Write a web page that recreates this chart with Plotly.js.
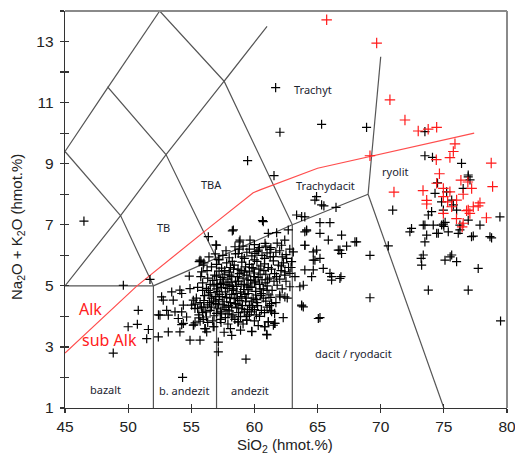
<!DOCTYPE html>
<html><head><meta charset="utf-8">
<script src="https://cdn.plot.ly/plotly-3.0.1.min.js"></script>
<style>html,body{margin:0;padding:0;background:#fff}#chart{width:515px;height:456px}</style>
</head><body><div id="chart"></div>
<script>
// ---- axis ticks ----
const xTicks = [45, 50, 55, 60, 65, 70, 75, 80];
const yTicks = [1, 3, 5, 7, 9, 11, 13];

// ---- TAS field boundaries (SiO2, Na2O+K2O) ----
const tasSegments = [
  [[45,5],[52,5]],
  [[52,1],[52,5]],
  [[57,1],[57,5.9]],
  [[63,1],[63,7]],
  [[52,5],[57,5.9],[63,7],[69,8]],
  [[69,8],[70,12.5]],
  [[69,8],[75,1]],
  [[45,5],[49.4,7.3],[52,5]],
  [[49.4,7.3],[53,9.3],[57,5.9]],
  [[53,9.3],[57.6,11.7],[63,7]],
  [[45,9.4],[49.4,7.3]],
  [[45,9.4],[48.4,11.5],[53,9.3]],
  [[48.4,11.5],[52.5,14]],
  [[52.5,14],[57.6,11.7],[61,13.5]]
];

// ---- alkaline / subalkaline divide ----
const alkLineX = [45, 50.7, 56.1, 59.9, 60.5, 65.0, 77.4];
const alkLineY = [2.8, 5.0, 6.8, 8.05, 8.15, 8.85, 10.0];

// ---- field labels ----
const fieldNames = ["Trachyt","TBA","TB","Trachydacit","ryolit","dacit / ryodacit","bazalt","b. andezit","andezit"];
const fieldX = [64.64, 56.6, 52.8, 65.65, 71.15, 67.83, 48.21, 54.41, 59.65];
const fieldY = [11.42, 8.33, 6.92, 8.3, 8.74, 2.8, 1.6, 1.56, 1.56];
const seriesNames = ["Alk","sub Alk"];
const seriesLabelX = [46.98, 48.56];
const seriesLabelY = [4.23, 3.22];

// ---- samples (black) ----
const blackPoints = [
 // dense core
 [55.6,4.05],[55.9,4.12],[56.2,3.98],[56.5,4.2],[56.8,4.02],[57.1,4.25],[57.4,4.08],[57.7,3.96],[58.0,4.18],[58.3,4.05],
 [58.6,4.28],[58.9,3.99],[59.2,4.15],[59.6,4.05],[60.0,4.22],[60.4,4.0],[60.8,4.12],[61.3,4.2],[56.0,4.3],[57.6,4.3],
 [55.7,4.45],[56.0,4.52],[56.3,4.38],[56.6,4.6],[56.9,4.42],[57.2,4.55],[57.5,4.38],[57.8,4.62],[58.1,4.45],[58.4,4.58],
 [58.7,4.4],[59.0,4.65],[59.3,4.48],[59.6,4.36],[59.9,4.6],[60.2,4.45],[60.5,4.68],[60.9,4.5],[61.3,4.62],[61.7,4.45],
 [62.0,4.7],[56.4,4.7],[58.2,4.72],[59.5,4.75],
 [55.9,4.85],[56.2,4.92],[56.5,4.78],[56.8,5.0],[57.1,4.82],[57.4,4.95],[57.7,4.8],[58.0,5.02],[58.3,4.85],[58.6,4.98],
 [58.9,4.8],[59.2,5.05],[59.5,4.88],[59.8,4.96],[60.1,4.82],[60.4,5.05],[60.7,4.9],[61.0,5.0],[61.4,4.85],[61.8,5.02],
 [62.2,4.9],[57.3,5.08],[60.0,5.1],
 [56.3,5.25],[56.7,5.18],[57.0,5.32],[57.3,5.2],[57.6,5.38],[57.9,5.22],[58.2,5.3],[58.5,5.15],[58.8,5.4],[59.1,5.25],
 [59.4,5.35],[59.7,5.18],[60.0,5.42],[60.3,5.28],[60.6,5.2],[60.9,5.38],[61.2,5.25],[61.6,5.4],[62.0,5.22],[62.4,5.35],
 [58.0,5.45],[59.6,5.48],
 [56.6,5.62],[57.0,5.7],[57.4,5.58],[57.8,5.75],[58.1,5.6],[58.4,5.68],[58.7,5.55],[59.0,5.78],[59.3,5.62],[59.6,5.7],
 [59.9,5.58],[60.2,5.8],[60.5,5.65],[60.8,5.72],[61.1,5.6],[61.5,5.82],[61.9,5.68],[62.3,5.75],[62.7,5.6],
 [57.5,6.0],[58.0,5.92],[58.5,6.05],[59.0,5.95],[59.4,6.1],[59.8,5.98],[60.2,6.12],[60.6,6.0],[61.0,6.08],[61.5,5.96],
 [62.0,6.15],[62.5,6.02],[62.8,6.2],
 [59.1,6.3],[60.0,6.35],[60.9,6.3],[61.8,6.4],[62.4,6.5],
 [56.9,4.65],[57.25,4.72],[57.6,4.48],[57.95,4.35],[58.35,4.9],[58.65,4.6],[59.05,4.35],[59.4,5.0],[59.75,4.5],[60.1,4.7],
 [57.05,5.05],[57.55,5.12],[58.15,5.12],[58.75,5.15],[59.25,4.72],[60.55,4.75],[58.5,4.42],[57.85,4.92],[59.95,5.3],[60.85,5.1],
 [56.6,4.3],[57.3,4.15],[58.45,3.9],[59.45,4.22],[60.25,4.35],[61.15,4.7],[61.55,5.15],[62.1,5.5],[61.25,5.95],[60.35,5.55],
 [58.95,5.5],[57.65,5.5],[56.25,5.5],[55.9,5.1],[55.5,4.25],[55.4,4.6],
 [56.05,4.68],[56.35,4.85],[56.75,4.5],[57.0,4.9],[57.15,4.4],[57.45,4.65],[57.75,4.22],[58.05,4.6],[58.25,4.98],[58.55,4.75],
 [58.85,4.52],[59.15,4.88],[59.35,4.6],[59.65,4.95],[59.85,4.3],[60.15,4.55],[60.45,4.9],[60.7,4.6],[61.0,4.85],[61.2,4.35],
 [56.5,5.05],[56.85,5.35],[57.2,5.48],[57.45,5.28],[57.75,5.05],[58.05,5.35],[58.35,5.55],[58.65,5.3],[58.95,5.05],[59.2,5.45],
 [59.5,5.2],[59.8,5.6],[60.1,5.15],[60.45,5.38],[60.75,5.5],[61.05,5.2],[61.35,5.55],[61.75,5.3],[62.15,5.65],[62.55,5.9],
 [57.2,5.85],[57.75,6.15],[58.25,5.8],[58.8,6.2],[59.2,5.9],[59.6,6.2],[60.0,5.85],[60.4,6.25],[60.8,5.9],[61.3,6.25],
 [61.7,6.1],[62.2,5.95],
 [55.8,4.3],[56.15,4.15],[56.45,4.45],[56.7,3.85],[57.0,4.1],[57.35,3.8],[57.9,4.08],[58.2,4.3],[58.75,4.12],[59.0,4.25],
 [59.35,4.0],[59.75,4.15],[60.15,4.05],[60.55,4.2],[61.0,4.3],[61.6,4.1],[56.3,3.8],[58.1,3.6],[59.1,3.75],[60.0,3.85],
 [55.5,4.95],[55.75,5.3],[56.0,5.75],[56.4,5.95],[56.9,6.05],[55.3,4.4],[55.6,3.95],[62.5,5.15],[62.6,4.6],[62.9,5.6],
 // bottom fringe
 [55.2,3.72],[55.7,3.84],[56.1,3.6],[56.8,3.66],[57.3,3.9],[57.9,3.75],[58.2,3.38],[58.7,3.82],[59.4,3.88],[59.8,3.5],
 [60.3,3.7],[60.8,3.66],[61.1,3.82],[61.6,3.77],[60.97,3.41],[58.9,3.55],[57.6,3.48],
 // left side
 [46.5,7.12],[49.62,5.02],[51.73,5.21],[50.8,4.2],[50.0,3.66],[50.73,3.74],[51.6,3.57],[51.47,3.27],[48.82,2.8],[52.39,3.33],
 [52.52,4.04],[52.65,4.64],[53.05,4.2],[54.31,2.0],[59.33,2.6],[57.14,2.84],[57.14,3.16],[55.69,3.22],[54.9,3.22],[54.1,3.49],
 [53.18,3.49],[53.45,4.8],[54.24,4.75],[54.9,4.91],[55.03,4.37],[54.37,4.37],[53.71,4.15],[54.24,4.15],[54.63,3.98],[54.24,3.73],
 [55.3,3.79],[55.95,3.9],[56.22,3.49],[55.69,5.84],[55.95,5.68],[57.0,6.33],[58.33,6.83],[56.35,6.61],[58.86,6.5],[55.63,5.79],
 [55.82,5.46],[54.84,5.32],[54.1,4.86],[52.78,4.53],[53.57,4.53],[53.18,4.04],[55.16,4.53],[55.29,4.26],[53.97,3.93],[54.37,3.77],
 [57.14,5.87],[52.4,4.05],
 // upper / middle
 [59.46,9.1],[61.68,11.49],[62.02,10.03],[65.32,10.29],[68.88,10.19],[61.55,8.61],
 [63.34,7.32],[63.99,7.26],[60.7,7.1],[58.25,6.8],[59.65,6.5],[61.1,6.72],[61.76,6.74],[62.68,6.83],[63.99,6.77],[63.99,6.33],
 [60.84,6.39],[60.31,6.17],[61.23,6.19],[62.15,6.33],[63.08,6.11],[58.46,6.28],[58.72,6.06],[60.04,6.06],[62.94,5.79],[63.99,5.52],
 [62.41,5.46],[63.21,5.3],[63.6,4.97],[62.81,4.97],[62.41,4.64],[63.74,4.37],[61.36,4.15],[61.1,3.82],[59.38,3.88],[58.72,3.82],
 [61.63,3.77],[58.2,3.98],[61.36,4.42],[60.64,7.14],[56.95,6.34],[55.77,5.81],[58.8,6.44],[64.13,6.8],[65.06,3.93],[62.28,3.96],
 [60.84,3.66],[56.74,3.66],[56.08,3.6],[55.16,3.71],[61.0,3.39],[59.78,3.51],[62.02,4.64],[62.81,5.41],[61.5,3.71],
 // trachydacite / dacite area
 [69.15,6.0],[69.15,4.61],[70.6,6.31],[63.74,4.34],[67.96,6.44],[66.9,6.66],[66.9,6.06],[66.77,6.17],[66.11,5.3],[66.85,5.3],
 [65.45,5.57],[64.66,5.84],[65.19,5.9],[65.85,6.5],[64.92,6.17],[64.92,7.92],[64.79,7.81],[65.32,7.65],[65.5,7.62],[66.46,7.57],
 [65.19,7.07],[65.98,7.07],[64.13,6.83],[65.19,6.72],[68.09,6.44],[67.3,6.3],[66.64,6.17],[64.0,6.33],[64.66,6.11],[64.79,5.84],
 [65.98,5.41],[64.53,5.3],[66.11,5.19],[66.77,5.24],[63.87,5.02],[63.87,4.31],[65.19,3.96],[63.74,7.27],[64.66,5.52],
 // rhyolite cluster
 [73.5,10.05],[73.5,9.26],[74.1,9.21],[76.4,9.01],[74.5,8.37],[76.93,8.57],[79.44,7.26],[70.95,7.48],[76.93,8.63],[77.07,8.47],
 [76.53,8.19],[75.22,8.08],[74.3,8.03],[74.82,7.75],[75.62,7.81],[75.75,7.65],[74.96,7.48],[76.01,7.48],[74.03,7.43],[76.93,7.15],
 [77.86,6.99],[74.82,6.99],[73.5,6.99],[72.44,6.88],[74.16,6.99],[75.35,6.77],[76.27,6.83],[77.19,6.61],[78.65,6.61],[73.64,6.66],
 [74.56,6.72],[72.31,6.77],[73.37,6.99],[74.96,7.02],[75.1,7.08],[75.0,6.95],[74.43,6.72],[76.14,6.72],[77.33,6.63],[78.78,6.57],
 [76.27,6.99],[73.5,6.44],[73.37,6.01],[73.24,5.68],[75.62,6.01],[75.09,5.84],[76.01,5.79],[77.72,5.57],[73.77,4.86],[76.93,4.86],
 [73.77,7.32],[79.49,3.85],[73.2,5.9],[75.5,5.95]
];

// ---- samples (red) ----
const redPoints = [
 [65.72,13.71],[69.68,12.95],[70.73,11.09],[71.92,10.43],[72.97,10.07],[73.76,10.13],[74.43,10.19],[69.15,9.26],[75.88,9.65],[75.75,9.4],
 [75.48,9.2],[74.4,9.13],[78.75,9.02],[74.65,8.67],[74.43,8.36],[76.35,8.46],[76.9,8.4],[78.86,8.25],[73.35,8.12],[71.05,8.07],
 [73.64,7.8],[75.48,8.08],[77.2,8.19],[76.53,8.0],[77.86,7.72],[76.93,7.48],[78.37,7.23],[76.45,6.93],[73.64,7.68],[74.96,7.37],
 [76.8,7.46],[77.06,7.37],[77.72,7.62],[76.53,7.05],[74.96,7.92],[75.62,7.59],[77.33,7.59],[76.01,7.81],[74.96,8.19],[76.0,7.2],
 [75.3,7.75]
];

// ---- build traces ----
const segX = [], segY = [];
tasSegments.forEach(s => { s.forEach(p => { segX.push(p[0]); segY.push(p[1]); }); segX.push(null); segY.push(null); });

const traces = [
  {x: segX, y: segY, mode: 'lines', line: {color: '#555', width: 1.2}, hoverinfo: 'skip', showlegend: false},
  {x: alkLineX, y: alkLineY, mode: 'lines', line: {color: '#ff4d4d', width: 1.2}, hoverinfo: 'skip', showlegend: false},
  {x: blackPoints.map(p => p[0]), y: blackPoints.map(p => p[1]), mode: 'markers',
   marker: {symbol: 'cross-thin', size: 6.5, color: '#000', line: {color: '#000', width: 1.2}}, showlegend: false},
  {x: redPoints.map(p => p[0]), y: redPoints.map(p => p[1]), mode: 'markers',
   marker: {symbol: 'cross-thin', size: 7.5, color: '#ff1a1a', line: {color: '#ff1a1a', width: 1.2}}, showlegend: false},
  {x: [], y: [], xaxis: 'x2', yaxis: 'y2', showlegend: false}
];

const annotations = [];
fieldNames.forEach((t, i) => annotations.push({x: fieldX[i], y: fieldY[i], text: t, showarrow: false,
  xanchor: 'center', yanchor: 'middle', font: {family: 'Noto Sans', size: 11, color: '#1c2430'}}));
seriesNames.forEach((t, i) => annotations.push({x: seriesLabelX[i], y: seriesLabelY[i], text: t, showarrow: false,
  xanchor: 'center', yanchor: 'middle', font: {family: 'Noto Sans', size: 16, color: '#ff2020'}}));
annotations.push({xref: 'paper', yref: 'paper', x: (285 - 65) / 442, y: -(446 - 408) / 397, text: 'SiO<sub>2</sub> (hmot.%)',
  xanchor: 'center', yanchor: 'middle', showarrow: false, font: {family: 'Liberation Sans', size: 15, color: '#222'}});
annotations.push({xref: 'paper', yref: 'paper', x: -(65 - 18) / 442, y: (408 - 227) / 397, text: 'Na<sub>2</sub>O + K<sub>2</sub>O (hmot.%)',
  xanchor: 'center', yanchor: 'middle', textangle: -90, showarrow: false, font: {family: 'Liberation Sans', size: 15, color: '#222'}});

const tickFont = {family: 'Liberation Sans', size: 15.5, color: '#222'};
const layout = {
  width: 515, height: 456,
  margin: {l: 65, r: 8, t: 11, b: 48},
  paper_bgcolor: '#fff', plot_bgcolor: '#fff',
  showlegend: false,
  xaxis: {range: [45, 80], tickvals: xTicks, ticktext: xTicks.map(String), ticks: 'outside', ticklen: 4, tickwidth: 1.2, tickcolor: '#333',
    showgrid: false, zeroline: false, showline: true, linecolor: '#333', linewidth: 1.3, tickfont: tickFont, ticklabeloverflow: 'allow'},
  yaxis: {range: [1, 14], tickvals: yTicks, ticktext: yTicks.map(String), ticks: 'outside', ticklen: 4, tickwidth: 1.2, tickcolor: '#333',
    minor: {dtick: 1, tick0: 0, ticks: 'outside', ticklen: 4, tickwidth: 1.2, tickcolor: '#333'},
    showgrid: false, zeroline: false, showline: true, linecolor: '#333', linewidth: 1.3, tickfont: tickFont, ticklabelstandoff: 3},
  xaxis2: {overlaying: 'x', range: [45, 80], tickvals: xTicks, ticks: 'inside', ticklen: 4, tickwidth: 1.2, tickcolor: '#333',
    showticklabels: false, showgrid: false, zeroline: false, showline: false, side: 'bottom'},
  yaxis2: {overlaying: 'y', range: [1, 14], tickvals: [1,2,3,4,5,6,7,8,9,10,11,12,13], ticks: 'inside', ticklen: 4, tickwidth: 1.2, tickcolor: '#333',
    showticklabels: false, showgrid: false, zeroline: false, showline: false, side: 'left'},
  shapes: [
    {type: 'line', xref: 'paper', yref: 'paper', x0: 0, x1: 1, y0: 1, y1: 1, line: {color: '#8a8a8a', width: 2}},
    {type: 'line', xref: 'paper', yref: 'paper', x0: 1, x1: 1, y0: 0, y1: 1, line: {color: '#8a8a8a', width: 2}}
  ],
  annotations: annotations
};
Plotly.newPlot('chart', traces, layout, {displayModeBar: false, staticPlot: true});
</script>
</body></html>
